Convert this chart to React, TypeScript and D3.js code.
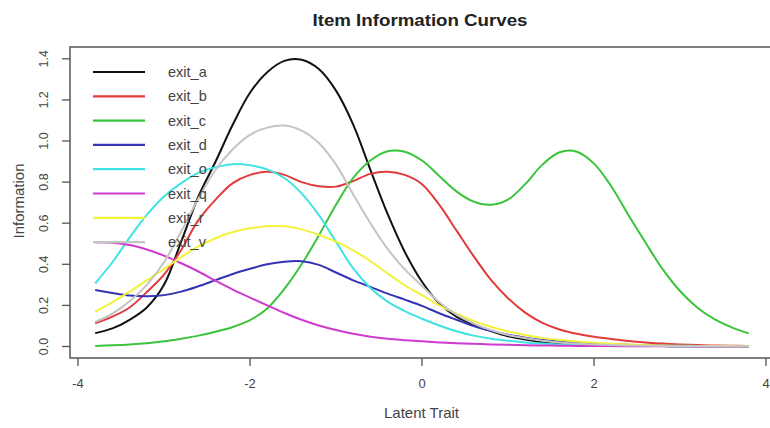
import React from "react";
import * as d3 from "d3";

const theta = [-3.8,-3.6,-3.4,-3.2,-3.0,-2.8,-2.6,-2.4,-2.2,-2.0,-1.8,-1.6,-1.4,-1.2,-1.0,-0.8,-0.6,-0.4,-0.2,0,0.2,0.4,0.6,0.8,1.0,1.2,1.4,1.6,1.8,2.0,2.2,2.4,2.6,2.8,3.0,3.2,3.4,3.6,3.8];

const exit_a = [0.065,0.088,0.13,0.19,0.30,0.51,0.73,0.90,1.08,1.235,1.335,1.39,1.395,1.35,1.245,1.08,0.86,0.645,0.46,0.315,0.21,0.145,0.105,0.075,0.05,0.034,0.021,0.013,0.009,0.006,0.004,0.003,0.002,0.002,0.001,0.001,0.001,0.001,0.0005];
const exit_b = [0.113,0.145,0.19,0.265,0.35,0.47,0.615,0.715,0.795,0.835,0.85,0.835,0.8,0.78,0.778,0.805,0.84,0.85,0.835,0.79,0.69,0.565,0.44,0.325,0.235,0.165,0.115,0.083,0.062,0.047,0.036,0.027,0.02,0.014,0.01,0.007,0.005,0.004,0.003];
const exit_c = [0.003,0.006,0.01,0.016,0.025,0.038,0.053,0.072,0.095,0.128,0.185,0.28,0.40,0.54,0.69,0.82,0.905,0.95,0.948,0.905,0.83,0.755,0.705,0.69,0.715,0.79,0.885,0.945,0.948,0.89,0.78,0.64,0.505,0.375,0.27,0.19,0.133,0.093,0.064];
const exit_d = [0.275,0.26,0.248,0.245,0.25,0.267,0.293,0.323,0.353,0.378,0.40,0.413,0.415,0.397,0.36,0.322,0.29,0.257,0.228,0.198,0.162,0.13,0.099,0.076,0.057,0.043,0.032,0.024,0.018,0.014,0.011,0.008,0.006,0.005,0.004,0.003,0.002,0.002,0.001];
const exit_o = [0.307,0.41,0.53,0.64,0.73,0.795,0.845,0.872,0.887,0.882,0.862,0.82,0.745,0.64,0.51,0.38,0.285,0.218,0.172,0.135,0.102,0.074,0.053,0.038,0.028,0.02,0.014,0.01,0.007,0.005,0.004,0.003,0.002,0.002,0.001,0.001,0.001,0.001,0.001];
const exit_q = [0.507,0.505,0.494,0.472,0.442,0.405,0.365,0.32,0.277,0.238,0.2,0.163,0.13,0.102,0.08,0.062,0.048,0.038,0.031,0.025,0.02,0.016,0.013,0.01,0.008,0.006,0.005,0.004,0.003,0.002,0.002,0.001,0.001,0.001,0.001,0.0005,0.0005,0.0005,0.0005];
const exit_r = [0.17,0.215,0.267,0.322,0.377,0.435,0.487,0.527,0.557,0.575,0.585,0.585,0.57,0.543,0.51,0.468,0.415,0.355,0.298,0.25,0.2,0.16,0.125,0.096,0.073,0.056,0.042,0.032,0.024,0.018,0.013,0.01,0.007,0.005,0.004,0.003,0.002,0.002,0.001];
const exit_v = [0.12,0.16,0.22,0.30,0.41,0.56,0.72,0.86,0.96,1.03,1.065,1.075,1.05,0.99,0.885,0.74,0.6,0.475,0.375,0.295,0.215,0.155,0.112,0.08,0.056,0.04,0.028,0.02,0.014,0.01,0.007,0.005,0.004,0.003,0.002,0.002,0.001,0.001,0.001];

const seriesNames = ["exit_a","exit_b","exit_c","exit_d","exit_o","exit_q","exit_r","exit_v"];
const seriesValues = [exit_a, exit_b, exit_c, exit_d, exit_o, exit_q, exit_r, exit_v];
const seriesColors = ["#111111","#E23B3B","#3BC43B","#3434B4","#3FE3E3","#CF3ACF","#F2F23A","#C4C4C4"];

const xTicks = [-4, -2, 0, 2, 4];
const yTicks = [0, 0.2, 0.4, 0.6, 0.8, 1.0, 1.2, 1.4];

const W = 770, H = 428;
const plotLeft = 70, plotTop = 47, plotBottom = 358, plotRight = 772;

export default function App() {
  const x = d3.scaleLinear().domain([-4, 4]).range([78, 766]);
  const y = d3.scaleLinear().domain([0, 1.4]).range([346.5, 58.8]);
  const line = d3.line<number>()
    .x((_, i) => x(theta[i]))
    .y((d) => y(d))
    .curve(d3.curveCatmullRom.alpha(0.5));

  const axisColor = "#555";
  const textColor = "#444";
  const font = "Liberation Sans, Arial, sans-serif";

  return (
    <svg width={W} height={H} style={{ position: "absolute", left: 0, top: 0, background: "#fff" }} fontFamily={font}>
      <rect x={0} y={0} width={W} height={H} fill="#fff" />
      <text x={420} y={26} textAnchor="middle" fontWeight="bold" fontSize={17} fill="#222"
        textLength={215} lengthAdjust="spacingAndGlyphs">Item Information Curves</text>

      {seriesValues.map((vals, k) => (
        <path key={seriesNames[k]} d={line(vals) || ""} fill="none" stroke={seriesColors[k]} strokeWidth={2} strokeLinejoin="round" />
      ))}

      <rect x={plotLeft} y={plotTop} width={plotRight - plotLeft} height={plotBottom - plotTop} fill="none" stroke={axisColor} strokeWidth={1.5} />

      {xTicks.map((t) => (
        <g key={"xt" + t}>
          <line x1={x(t)} x2={x(t)} y1={plotBottom} y2={plotBottom + 8} stroke={axisColor} strokeWidth={1.3} />
          <text x={x(t)} y={388} textAnchor="middle" fontSize={13} fill={textColor}>{String(t)}</text>
        </g>
      ))}

      {yTicks.map((t) => (
        <g key={"yt" + t}>
          <line x1={plotLeft - 8} x2={plotLeft} y1={y(t)} y2={y(t)} stroke={axisColor} strokeWidth={1.3} />
          <text transform={`translate(48,${y(t)}) rotate(-90)`} textAnchor="middle" fontSize={12.5} fill={textColor}>{t.toFixed(1)}</text>
        </g>
      ))}

      <text x={421.5} y={418} textAnchor="middle" fontSize={15} fill={textColor}>Latent Trait</text>
      <text transform={`translate(24,201) rotate(-90)`} textAnchor="middle" fontSize={15} fill={textColor}>Information</text>

      {seriesNames.map((name, k) => {
        const ly = 72 + k * 24.3;
        return (
          <g key={"lg" + name}>
            <line x1={93} x2={145} y1={ly} y2={ly} stroke={seriesColors[k]} strokeWidth={2.2} />
            <text x={168} y={ly + 5} fontSize={14.5} fill={textColor}>{name}</text>
          </g>
        );
      })}
    </svg>
  );
}
